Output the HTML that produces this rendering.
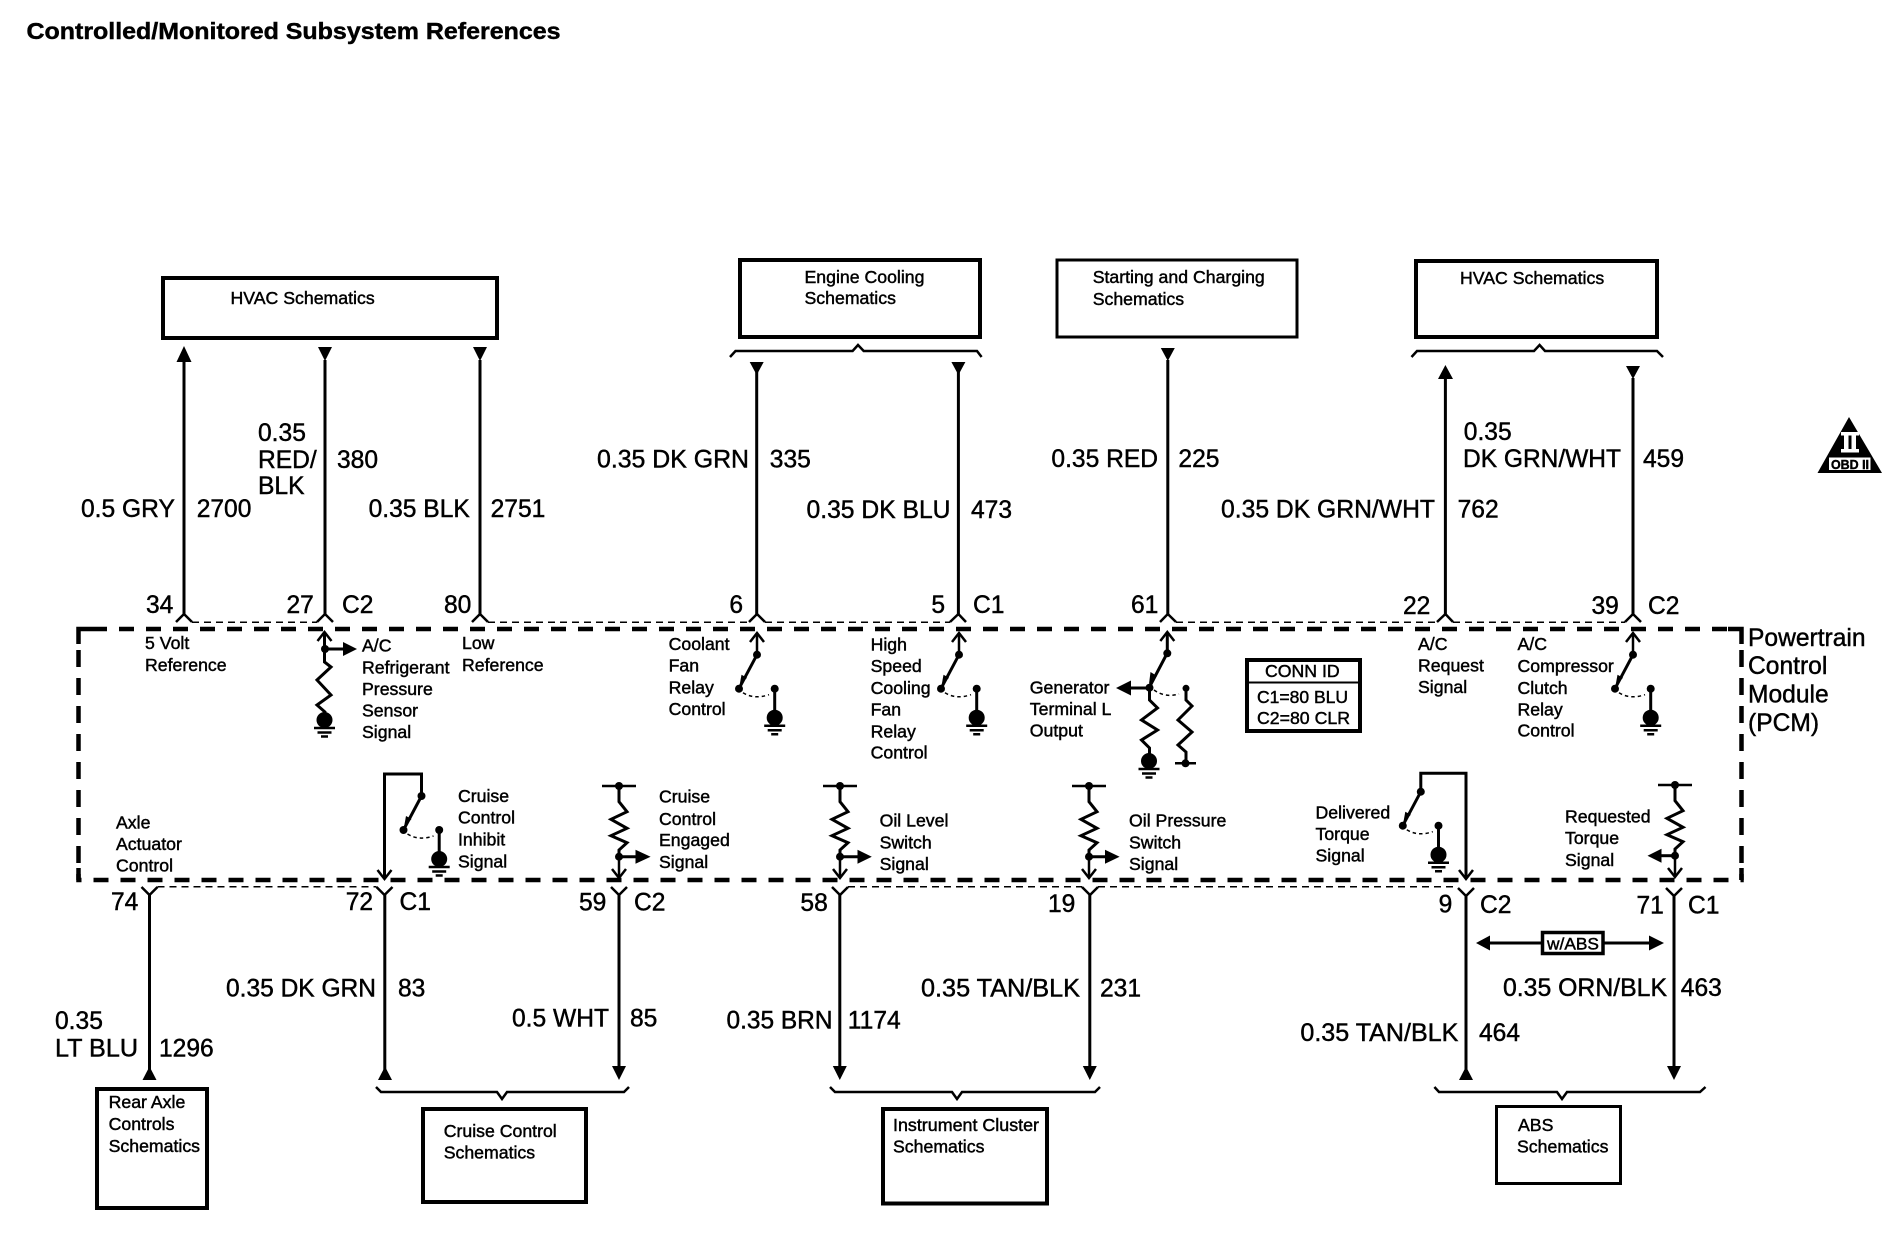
<!DOCTYPE html>
<html>
<head>
<meta charset="utf-8">
<title>Controlled/Monitored Subsystem References</title>
<style>
html,body{margin:0;padding:0;background:#fff;width:1896px;height:1248px;overflow:hidden}
svg{display:block}
text{font-family:"Liberation Sans",sans-serif;fill:#000;stroke:#000;stroke-width:.45}
.b{font-size:24.6px}
.s{font-size:17.7px}
.t{font-size:23px;font-weight:bold}
.w{fill:none;stroke:#000;stroke-width:3}
.bx{fill:#fff;stroke:#000;stroke-width:4}
.tn{fill:none;stroke:#000;stroke-width:1.5;stroke-dasharray:7 5}
.br{fill:none;stroke:#000;stroke-width:2.5}
</style>
</head>
<body>
<svg width="1896" height="1248" viewBox="0 0 1896 1248" xmlns="http://www.w3.org/2000/svg">
<defs>
<g id="gnd">
<circle cx="0" cy="0" r="8" fill="#000"/>
<path d="M-10.5 8H10.5M-7 12.5H7M-3.5 16.5H3.5" stroke="#000" stroke-width="2.5" fill="none"/>
</g>
<g id="sw">
<circle cx="0" cy="0" r="4" fill="#000"/>
<path d="M0 0L-17 32" stroke="#000" stroke-width="3" fill="none"/>
<path d="M-17.5 31L-15.5 20L-10 23Z" fill="#000"/>
<circle cx="-18" cy="34" r="4" fill="#000"/>
<path d="M-14 38Q-3 45 12 40" fill="none" stroke="#000" stroke-width="1.5" stroke-dasharray="3.5 3"/>
<circle cx="17.7" cy="34" r="4" fill="#000"/>
<path d="M17.7 34V60" stroke="#000" stroke-width="3" fill="none"/>
<use href="#gnd" x="17.7" y="63"/>
</g>
<path id="ua" d="M-7 9L0 0L7 9" fill="none" stroke="#000" stroke-width="2.5"/>
<path id="da" d="M-7 -9L0 0L7 -9" fill="none" stroke="#000" stroke-width="2.5"/>
<path id="zz" d="M0 0V15.7L8 25.7L-8 33.3L8 42.3L-8 49.7L8 56.7L0 64V70.7" fill="none" stroke="#000" stroke-width="3"/>
<g id="pu">
<path d="M-17 0H17M0 0V2" stroke="#000" stroke-width="2.5" fill="none"/>
<circle cx="0" cy="0" r="4" fill="#000"/>
<use href="#zz"/>
<circle cx="0" cy="70.7" r="4" fill="#000"/>
<path d="M0 70.7V91" stroke="#000" stroke-width="2.5" fill="none"/>
<use href="#da" x="0" y="92"/>
</g>
</defs>

<text class="t" x="26.5" y="39" textLength="534" lengthAdjust="spacingAndGlyphs">Controlled/Monitored Subsystem References</text>

<!-- top boxes -->
<rect class="bx" x="163" y="278" width="334" height="60"/>
<rect class="bx" x="740" y="260" width="240" height="77"/>
<rect class="bx" x="1057" y="260" width="240" height="77" style="stroke-width:3"/>
<rect class="bx" x="1416" y="261" width="241" height="76"/>
<text class="s" x="230.5" y="304">HVAC Schematics</text>
<text class="s" x="804.5" y="283">Engine Cooling</text>
<text class="s" x="804.5" y="304">Schematics</text>
<text class="s" x="1092.7" y="283">Starting and Charging</text>
<text class="s" x="1092.7" y="305">Schematics</text>
<text class="s" x="1460" y="284">HVAC Schematics</text>

<!-- top braces -->
<path class="br" d="M730 357L735.5 351H852.6L858 345L863.7 351H977L981.6 357"/>
<path class="br" d="M1411.5 357L1417 351H1534L1539.6 345L1545 351H1657L1663 357"/>

<!-- top wires -->
<path class="w" d="M184 360V616M325 360V616M480 360V616M756.7 372V616M958.4 372V616M1167.8 360V616M1445.4 377V616M1633 378V616"/>
<path d="M184 346L176.5 362H191.5Z M1445.4 365L1438 379H1453Z"/>
<path d="M318 347L332 347L325 361Z M473 347L487 347L480 361Z M749.7 362L763.7 362L756.7 375Z M951.4 362L965.4 362L958.4 375Z M1160.8 348L1174.8 348L1167.8 361Z M1626 366L1640 366L1633 379Z"/>

<!-- top connectors -->
<g fill="none" stroke="#000" stroke-width="2.5">
<path d="M176 622L184 614L192 622"/>
<path d="M317 622L325 614L333 622"/>
<path d="M472 622L480 614L488 622"/>
<path d="M749 622L757 614L765 622"/>
<path d="M950 622L958.4 614L966 622"/>
<path d="M1160 622L1167.8 614L1176 622"/>
<path d="M1437 622L1445.4 614L1453 622"/>
<path d="M1625 622L1633 614L1641 622"/>
</g>
<path class="tn" d="M192 622.3H317M488 622.3H749M765 622.3H950M1176 622.3H1437M1453 622.3H1625"/>

<!-- wire labels top -->
<text class="b" x="81" y="517">0.5 GRY</text>
<text class="b" x="196.7" y="517">2700</text>
<text class="b" x="258" y="441">0.35</text>
<text class="b" x="258" y="468">RED/</text>
<text class="b" x="258" y="494">BLK</text>
<text class="b" x="337" y="468">380</text>
<text class="b" x="368.6" y="517">0.35 BLK</text>
<text class="b" x="490.6" y="517">2751</text>
<text class="b" x="597" y="467.5" textLength="152" lengthAdjust="spacingAndGlyphs">0.35 DK GRN</text>
<text class="b" x="769.8" y="467.5">335</text>
<text class="b" x="806.5" y="518" textLength="144" lengthAdjust="spacingAndGlyphs">0.35 DK BLU</text>
<text class="b" x="971" y="518">473</text>
<text class="b" x="1051.4" y="467">0.35 RED</text>
<text class="b" x="1178.4" y="467">225</text>
<text class="b" x="1221" y="517.5" textLength="214" lengthAdjust="spacingAndGlyphs">0.35 DK GRN/WHT</text>
<text class="b" x="1457.6" y="517.5">762</text>
<text class="b" x="1463.8" y="440">0.35</text>
<text class="b" x="1463" y="467" textLength="158" lengthAdjust="spacingAndGlyphs">DK GRN/WHT</text>
<text class="b" x="1643" y="467">459</text>

<!-- pin labels top -->
<text class="b" x="146" y="613">34</text>
<text class="b" x="286.5" y="613">27</text>
<text class="b" x="342" y="613">C2</text>
<text class="b" x="444" y="613">80</text>
<text class="b" x="729.4" y="613">6</text>
<text class="b" x="931.4" y="613">5</text>
<text class="b" x="973" y="613">C1</text>
<text class="b" x="1131" y="613">61</text>
<text class="b" x="1403" y="614">22</text>
<text class="b" x="1591.5" y="614">39</text>
<text class="b" x="1648" y="614">C2</text>

<!-- PCM box -->
<path d="M78.5 644V629H92M1728 629H1741.5V644" fill="none" stroke="#000" stroke-width="4.5"/>
<path d="M92 629H1728" fill="none" stroke="#000" stroke-width="4.5" stroke-dasharray="15 12"/>
<path d="M78.5 650V880" fill="none" stroke="#000" stroke-width="4.5" stroke-dasharray="17 11"/>
<path d="M1741.5 650V880" fill="none" stroke="#000" stroke-width="4.5" stroke-dasharray="17 11"/>
<path d="M78.5 868V880H1741.5V868" fill="none" stroke="#000" stroke-width="4.5" stroke-dasharray="15 12"/>

<text class="b" x="1748" y="646">Powertrain</text>
<text class="b" x="1748" y="674">Control</text>
<text class="b" x="1748" y="702.5">Module</text>
<text class="b" x="1748" y="731">(PCM)</text>

<!-- PCM inner upper labels -->
<text class="s" x="145" y="649">5 Volt</text>
<text class="s" x="145" y="671">Reference</text>
<text class="s" x="362" y="651.5">A/C</text>
<text class="s" x="362" y="673.5">Refrigerant</text>
<text class="s" x="362" y="695">Pressure</text>
<text class="s" x="362" y="716.5">Sensor</text>
<text class="s" x="362" y="738">Signal</text>
<text class="s" x="462" y="649">Low</text>
<text class="s" x="462" y="671">Reference</text>
<text class="s" x="668.6" y="650">Coolant</text>
<text class="s" x="668.6" y="671.5">Fan</text>
<text class="s" x="668.6" y="693.5">Relay</text>
<text class="s" x="668.6" y="715">Control</text>
<text class="s" x="870.6" y="650.5">High</text>
<text class="s" x="870.6" y="672">Speed</text>
<text class="s" x="870.6" y="694">Cooling</text>
<text class="s" x="870.6" y="715.5">Fan</text>
<text class="s" x="870.6" y="737.5">Relay</text>
<text class="s" x="870.6" y="758.5">Control</text>
<text class="s" x="1029.8" y="693.5">Generator</text>
<text class="s" x="1029.8" y="715">Terminal L</text>
<text class="s" x="1029.8" y="736.5">Output</text>
<text class="s" x="1418" y="650">A/C</text>
<text class="s" x="1418" y="671.5">Request</text>
<text class="s" x="1418" y="693">Signal</text>
<text class="s" x="1517.5" y="650">A/C</text>
<text class="s" x="1517.5" y="672">Compressor</text>
<text class="s" x="1517.5" y="694">Clutch</text>
<text class="s" x="1517.5" y="715.5">Relay</text>
<text class="s" x="1517.5" y="736.5">Control</text>

<!-- PCM inner lower labels -->
<text class="s" x="116" y="828.5">Axle</text>
<text class="s" x="116" y="850">Actuator</text>
<text class="s" x="116" y="871.5">Control</text>
<text class="s" x="458" y="802">Cruise</text>
<text class="s" x="458" y="823.5">Control</text>
<text class="s" x="458" y="845.5">Inhibit</text>
<text class="s" x="458" y="867.5">Signal</text>
<text class="s" x="659" y="802.5">Cruise</text>
<text class="s" x="659" y="825">Control</text>
<text class="s" x="659" y="846">Engaged</text>
<text class="s" x="659" y="868">Signal</text>
<text class="s" x="879.6" y="826.5">Oil Level</text>
<text class="s" x="879.6" y="848.5">Switch</text>
<text class="s" x="879.6" y="870">Signal</text>
<text class="s" x="1129" y="826.5">Oil Pressure</text>
<text class="s" x="1129" y="848.5">Switch</text>
<text class="s" x="1129" y="870">Signal</text>
<text class="s" x="1315.5" y="818.5">Delivered</text>
<text class="s" x="1315.5" y="840">Torque</text>
<text class="s" x="1315.5" y="861.5">Signal</text>
<text class="s" x="1565" y="822.5">Requested</text>
<text class="s" x="1565" y="844">Torque</text>
<text class="s" x="1565" y="866">Signal</text>

<!-- A/C refrigerant circuit -->
<use href="#ua" x="324.5" y="632"/>
<path d="M324.5 632V662L331 667L317 680L331 695L317 705L325 712V716" fill="none" stroke="#000" stroke-width="3"/>
<path d="M325 649H344" stroke="#000" stroke-width="3"/>
<circle cx="325" cy="649" r="4"/>
<path d="M343 642L357 649L343 656Z"/>
<use href="#gnd" x="324.5" y="720"/>

<!-- switches with up arrow -->
<use href="#ua" x="757" y="633"/><path d="M757 633V655" stroke="#000" stroke-width="2.5"/>
<use href="#sw" x="757" y="654.7"/>
<use href="#ua" x="959" y="633"/><path d="M959 633V655" stroke="#000" stroke-width="2.5"/>
<use href="#sw" x="959" y="654.7"/>
<use href="#ua" x="1633" y="633"/><path d="M1633 633V655" stroke="#000" stroke-width="2.5"/>
<use href="#sw" x="1633" y="654.7"/>

<!-- generator circuit -->
<use href="#ua" x="1167.3" y="632"/>
<path d="M1167.3 632V653L1150 686" fill="none" stroke="#000" stroke-width="3"/>
<circle cx="1167.3" cy="653.3" r="4"/>
<path d="M1149 684L1150.5 672L1157 676Z"/>
<circle cx="1149.5" cy="687.7" r="4"/>
<path d="M1149.5 688H1130" stroke="#000" stroke-width="3"/>
<path d="M1131 680.5L1116 688L1131 695.5Z"/>
<path d="M1149.5 688V700L1157.5 708L1141.5 720L1157.5 730L1141.5 740L1149.5 748V755" fill="none" stroke="#000" stroke-width="3"/>
<use href="#gnd" x="1149" y="761"/>
<path d="M1154 690Q1165 698 1179 694" fill="none" stroke="#000" stroke-width="1.5" stroke-dasharray="3.5 3"/>
<circle cx="1186" cy="688.3" r="3.5"/>
<path d="M1186 688V700L1192 706L1178 720L1192 732L1178 745L1186 752V763" fill="none" stroke="#000" stroke-width="3"/>
<path d="M1175 763.3H1196" stroke="#000" stroke-width="2.5"/>
<circle cx="1185.5" cy="763.3" r="4"/>

<!-- CONN ID -->
<rect x="1247" y="660" width="113" height="71" fill="#fff" stroke="#000" stroke-width="4"/>
<path d="M1247 682.5H1360" stroke="#000" stroke-width="2"/>
<text class="s" x="1265" y="677">CONN ID</text>
<text class="s" x="1257" y="703" textLength="91" lengthAdjust="spacingAndGlyphs">C1=80 BLU</text>
<text class="s" x="1257" y="724" textLength="93" lengthAdjust="spacingAndGlyphs">C2=80 CLR</text>

<!-- cruise inhibit -->
<path d="M421.5 796V774H384.5V877" fill="none" stroke="#000" stroke-width="3"/>
<use href="#da" x="384.5" y="879"/>
<use href="#sw" x="421.5" y="796"/>

<!-- delivered torque -->
<path d="M1420.8 792V773.3H1466V877" fill="none" stroke="#000" stroke-width="3"/>
<use href="#da" x="1466" y="879"/>
<use href="#sw" x="1420.8" y="791.7"/>

<!-- pull-ups -->
<use href="#pu" x="619" y="786"/>
<path d="M619 856.7H637" stroke="#000" stroke-width="3"/><path d="M635.5 849.7L650.6 856.7L635.5 863.7Z"/>
<use href="#pu" x="840" y="786"/>
<path d="M840 856.7H859" stroke="#000" stroke-width="3"/><path d="M857.5 849.7L871.8 856.7L857.5 863.7Z"/>
<use href="#pu" x="1089" y="786"/>
<path d="M1089 856.7H1107" stroke="#000" stroke-width="3"/><path d="M1105 849.7L1119.6 856.7L1105 863.7Z"/>
<use href="#pu" x="1675" y="785"/>
<path d="M1675 855.7H1660" stroke="#000" stroke-width="3"/><path d="M1661.5 848.7L1647.5 855.7L1661.5 862.7Z"/>

<!-- bottom connectors -->
<g fill="none" stroke="#000" stroke-width="2.5">
<path d="M141.5 887L149.5 895L157.5 887"/>
<path d="M376.5 887L384.5 895L392.5 887"/>
<path d="M611 887L619 895L627 887"/>
<path d="M832 887L840 895L848 887"/>
<path d="M1082 887L1090 895L1098 887"/>
<path d="M1458 888L1466 896L1474 888"/>
<path d="M1666 888L1674 896L1682 888"/>
</g>
<path class="tn" d="M157.5 886.7H376.5M848 886.7H1082M1098 886.7H1458"/>

<!-- bottom wires -->
<path class="w" d="M149.5 894V1072M384.8 894V1072M619 894V1070M839.8 894V1070M1089.8 894V1070M1466 895V1072M1674 895V1070"/>
<path d="M149.5 1066.5L142.5 1080H156.5Z M385 1066.5L378 1080H392Z M1466 1066.5L1459 1080H1473Z"/>
<path d="M612 1066H626L619 1080Z M832.8 1066H846.8L839.8 1080Z M1082.8 1066H1096.8L1089.8 1080Z M1667 1066H1681L1674 1080Z"/>

<!-- bottom pin labels -->
<text class="b" x="111" y="910">74</text>
<text class="b" x="345.7" y="910">72</text>
<text class="b" x="399.5" y="910">C1</text>
<text class="b" x="579" y="910.5">59</text>
<text class="b" x="634" y="910.5">C2</text>
<text class="b" x="800.4" y="911">58</text>
<text class="b" x="1048" y="912">19</text>
<text class="b" x="1438.6" y="912.5">9</text>
<text class="b" x="1480" y="913">C2</text>
<text class="b" x="1636.5" y="913.5">71</text>
<text class="b" x="1688" y="913.5">C1</text>

<!-- bottom wire labels -->
<text class="b" x="55" y="1029">0.35</text>
<text class="b" x="55" y="1056.5" textLength="83" lengthAdjust="spacingAndGlyphs">LT BLU</text>
<text class="b" x="159" y="1056.5">1296</text>
<text class="b" x="226" y="996.5" textLength="150" lengthAdjust="spacingAndGlyphs">0.35 DK GRN</text>
<text class="b" x="398" y="996.5">83</text>
<text class="b" x="512" y="1026.5" textLength="97" lengthAdjust="spacingAndGlyphs">0.5 WHT</text>
<text class="b" x="630" y="1026.5">85</text>
<text class="b" x="726.5" y="1028.5" textLength="106" lengthAdjust="spacingAndGlyphs">0.35 BRN</text>
<text class="b" x="847.8" y="1028.5">1174</text>
<text class="b" x="921" y="996.5" textLength="159" lengthAdjust="spacingAndGlyphs">0.35 TAN/BLK</text>
<text class="b" x="1100" y="996.5">231</text>
<text class="b" x="1503" y="996" textLength="164" lengthAdjust="spacingAndGlyphs">0.35 ORN/BLK</text>
<text class="b" x="1680.8" y="996">463</text>
<text class="b" x="1300.4" y="1041" textLength="158" lengthAdjust="spacingAndGlyphs">0.35 TAN/BLK</text>
<text class="b" x="1479" y="1041">464</text>

<!-- w/ABS -->
<path d="M1488 943H1650" stroke="#000" stroke-width="3"/>
<path d="M1476 943L1490 935.5V950.5Z M1664 943L1649 935.5V950.5Z"/>
<rect x="1542.5" y="932.5" width="60.5" height="21" fill="#fff" stroke="#000" stroke-width="3.5"/>
<text x="1547" y="949.5" style="font-size:17px" textLength="52" lengthAdjust="spacingAndGlyphs">w/ABS</text>

<!-- bottom braces -->
<path class="br" d="M376 1087L381 1092H497L502 1099L507 1092H624L629 1087"/>
<path class="br" d="M830 1087L835 1092H952L957 1099L962 1092H1095L1100 1087"/>
<path class="br" d="M1434.4 1087L1439 1092H1557L1562 1099L1567 1092H1700L1705.5 1087"/>

<!-- bottom boxes -->
<rect class="bx" x="97" y="1089" width="110" height="119"/>
<rect class="bx" x="423" y="1109" width="163" height="93"/>
<rect class="bx" x="883" y="1109" width="164" height="94.5"/>
<rect class="bx" x="1496.5" y="1106.5" width="124" height="77" style="stroke-width:3"/>
<text class="s" x="108.6" y="1108">Rear Axle</text>
<text class="s" x="108.6" y="1130">Controls</text>
<text class="s" x="108.6" y="1152">Schematics</text>
<text class="s" x="443.7" y="1137">Cruise Control</text>
<text class="s" x="443.7" y="1158.5">Schematics</text>
<text class="s" x="893" y="1131" textLength="146" lengthAdjust="spacingAndGlyphs">Instrument Cluster</text>
<text class="s" x="893" y="1152.5">Schematics</text>
<text class="s" x="1518" y="1131">ABS</text>
<text class="s" x="1517" y="1152.5">Schematics</text>

<!-- OBD II -->
<path d="M1849 417L1817.5 473H1882Z"/>
<rect x="1841" y="432" width="18" height="3.5" fill="#fff"/>
<rect x="1844" y="435" width="4.5" height="14" fill="#fff"/>
<rect x="1851.5" y="435" width="4.5" height="14" fill="#fff"/>
<rect x="1841" y="449" width="18" height="3.5" fill="#fff"/>
<rect x="1829" y="457.5" width="41.5" height="12.5" fill="#fff"/>
<text x="1831" y="469" style="font-size:13px;font-weight:bold" textLength="38" lengthAdjust="spacingAndGlyphs">OBD II</text>
</svg>
</body>
</html>
